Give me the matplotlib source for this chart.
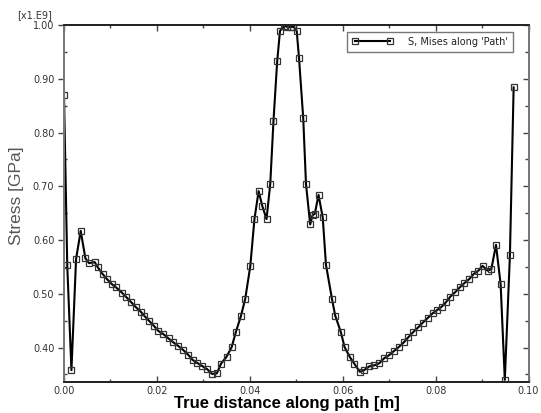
import matplotlib
matplotlib.use("Agg")
import matplotlib.pyplot as plt
from matplotlib.ticker import MultipleLocator, FormatStrFormatter

distance = [0.0000, 0.0007, 0.0016, 0.0026, 0.0036, 0.0046, 0.0054, 0.0066, 0.0073, 0.0083,
            0.0093, 0.0103, 0.0112, 0.0125, 0.0134, 0.0145, 0.0155, 0.0166, 0.0173, 0.0184,
            0.0194, 0.0203, 0.0214, 0.0225, 0.0235, 0.0246, 0.0256, 0.0268, 0.0277, 0.0286,
            0.0297, 0.0308, 0.0319, 0.0329, 0.0338, 0.0350, 0.0361, 0.0370, 0.0381, 0.0390,
            0.0401, 0.0410, 0.0419, 0.0427, 0.0436, 0.0444, 0.0451, 0.0459, 0.0465, 0.0474,
            0.0480, 0.0488, 0.0494, 0.0501, 0.0506, 0.0515, 0.0521, 0.0530, 0.0535, 0.0540,
            0.0548, 0.0557, 0.0564, 0.0577, 0.0584, 0.0596, 0.0604, 0.0615, 0.0625, 0.0637,
            0.0646, 0.0657, 0.0668, 0.0679, 0.0689, 0.0700, 0.0711, 0.0722, 0.0733, 0.0741,
            0.0752, 0.0763, 0.0772, 0.0783, 0.0794, 0.0802, 0.0813, 0.0822, 0.0832, 0.0842,
            0.0852, 0.0862, 0.0872, 0.0882, 0.0892, 0.0901, 0.0912, 0.0920, 0.0930, 0.0940,
            0.0949, 0.0960, 0.0968]
stress = [0.869, 0.553, 0.358, 0.565, 0.617, 0.566, 0.557, 0.559, 0.549, 0.537,
          0.527, 0.518, 0.512, 0.502, 0.494, 0.484, 0.475, 0.466, 0.459, 0.449,
          0.440, 0.431, 0.425, 0.417, 0.410, 0.403, 0.396, 0.386, 0.377, 0.372,
          0.366, 0.360, 0.351, 0.352, 0.370, 0.383, 0.401, 0.429, 0.459, 0.490,
          0.551, 0.639, 0.691, 0.663, 0.639, 0.704, 0.822, 0.933, 0.989, 0.998,
          0.997, 0.996, 0.997, 0.989, 0.938, 0.827, 0.704, 0.629, 0.646, 0.649,
          0.684, 0.642, 0.554, 0.490, 0.459, 0.429, 0.401, 0.383, 0.370, 0.355,
          0.358, 0.365, 0.367, 0.371, 0.380, 0.386, 0.394, 0.402, 0.411, 0.419,
          0.429, 0.438, 0.446, 0.455, 0.464, 0.469, 0.476, 0.484, 0.495, 0.503,
          0.512, 0.520, 0.527, 0.537, 0.543, 0.552, 0.543, 0.546, 0.591, 0.518,
          0.340, 0.572, 0.884]

series_label = "S, Mises along 'Path'"
x_label = "True distance along path [m]"
y_label = "Stress [GPa]"
scale_note = "[x1.E9]"

W, H = 541, 413
L, R, T, B = 64, 528.5, 25, 382
fig = plt.figure(figsize=(W/100, H/100), dpi=100)
ax = fig.add_axes([L/W, 1-B/H, (R-L)/W, (B-T)/H])

ax.plot(distance, stress, color="black", lw=1.5, marker="s", markersize=3.8,
        markerfacecolor="none", markeredgecolor="#333333", markeredgewidth=0.9,
        label=series_label, clip_on=True)

ax.set_xlim(0, 0.10)
ax.set_ylim(0.336, 1.0)
ax.xaxis.set_major_locator(MultipleLocator(0.02))
ax.xaxis.set_minor_locator(MultipleLocator(0.01))
ax.yaxis.set_major_locator(MultipleLocator(0.10))
ax.yaxis.set_minor_locator(MultipleLocator(0.05))
ax.xaxis.set_major_formatter(FormatStrFormatter("%.2f"))
ax.yaxis.set_major_formatter(FormatStrFormatter("%.2f"))

tick_font = dict(labelsize=7, labelcolor="#333333", color="#444444")
ax.tick_params(axis="x", which="major", direction="in", length=4, width=1, top=True, pad=3, **tick_font)
ax.tick_params(axis="x", which="minor", direction="in", length=2.5, width=1, top=True, color="#444444")
ax.tick_params(axis="y", which="major", direction="out", length=4, width=1, right=False, pad=3, **tick_font)
ax.tick_params(axis="y", which="minor", direction="in", length=2.5, width=1, right=False, color="#444444")

ax2 = ax.twinx()
ax2.set_ylim(ax.get_ylim())
ax2.yaxis.set_major_locator(MultipleLocator(0.10))
ax2.yaxis.set_minor_locator(MultipleLocator(0.05))
ax2.tick_params(axis="y", which="both", direction="in", length=4, width=1, labelright=False, color="#444444")
ax2.tick_params(axis="y", which="minor", length=3)

for a in (ax, ax2):
    a.spines["left"].set_color("#777777")
    a.spines["right"].set_color("#777777")
    a.spines["top"].set_color("#222222")
    a.spines["bottom"].set_color("#222222")
    for s in a.spines.values():
        s.set_linewidth(1.3)

ax.set_xlabel(x_label, fontsize=12, fontweight="bold", family="Liberation Sans", color="black")
ax.xaxis.set_label_coords((287 - L) / (R - L), -(396 - B) / (B - T))
ax.set_ylabel(y_label, fontsize=12.5, family="Liberation Sans", color="#555555")
ax.yaxis.set_label_coords(-(L - 24) / (R - L), (B - 196) / (B - T))
fig.text(17/W, 1-15/H, scale_note, fontsize=7, color="#333333", va="center", ha="left")

leg = ax.legend(loc="upper right", bbox_to_anchor=((513-L)/(R-L), (B-32)/(B-T)), fontsize=7,
                frameon=True, fancybox=False, handlelength=4.2, numpoints=2, borderpad=0.5,
                handletextpad=1.6, borderaxespad=0)
leg.get_frame().set_edgecolor("#555555")
leg.get_frame().set_linewidth(1.0)
for t in leg.get_texts():
    t.set_color("#222222")

fig.savefig("out.png", dpi=100)
